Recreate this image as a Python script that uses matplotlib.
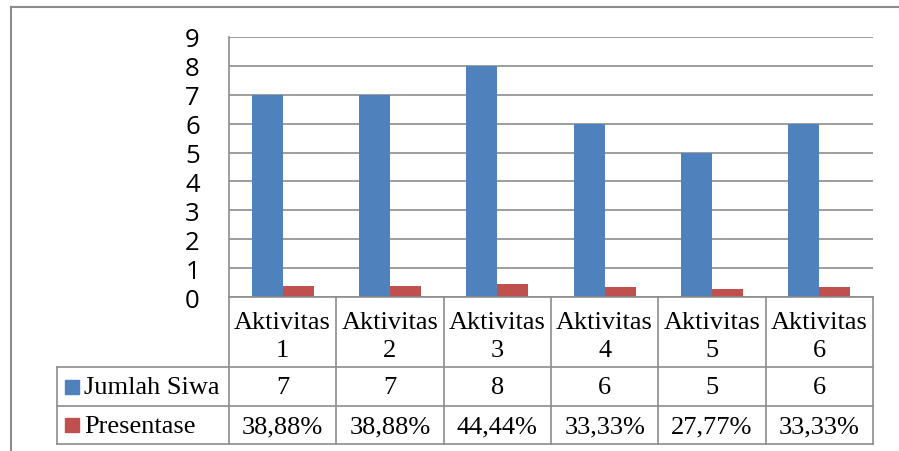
import numpy as np
import matplotlib.pyplot as plt
from matplotlib.lines import Line2D
from matplotlib.patches import Rectangle

categories = ["Aktivitas\n1", "Aktivitas\n2", "Aktivitas\n3", "Aktivitas\n4", "Aktivitas\n5", "Aktivitas\n6"]
jumlah = [7, 7, 8, 6, 5, 6]
presentase = [0.3888, 0.3888, 0.4444, 0.3333, 0.2777, 0.3333]
presentase_labels = ["38,88%", "38,88%", "44,44%", "33,33%", "27,77%", "33,33%"]
series_names = ["Jumlah Siwa", "Presentase"]
colors = ["#4F81BD", "#C0504D"]

W, H = 899, 452
fig = plt.figure(figsize=(W / 100, H / 100), dpi=100)
grid_c = "#8c8c8c"

def fx(px):
    return px / W

def fy(py):
    return 1 - py / H

x_left, x_right = 229, 873
y_top, y_bot = 38, 298
ax = fig.add_axes([fx(x_left), fy(y_bot), fx(x_right) - fx(x_left), fy(y_top) - fy(y_bot)])

n = len(categories)
x = np.arange(n)
bw = 0.29
ax.bar(x - bw / 2, jumlah, bw, color=colors[0], zorder=3)
ax.bar(x + bw / 2, presentase, bw, color=colors[1], zorder=3)
ax.set_xlim(-0.5, n - 0.5)
ax.set_ylim(0, 9)
ax.set_yticks(range(10))
ax.set_yticklabels([str(i) for i in range(10)], fontsize=18.5, family="Open Sans")
ax.tick_params(axis="y", length=0, pad=21)
ax.set_xticks([])
ax.yaxis.grid(True, color=grid_c, lw=1.2, zorder=0)
for s in ["top", "right", "bottom"]:
    ax.spines[s].set_visible(False)
ax.spines["left"].set_color(grid_c)
ax.spines["left"].set_linewidth(1.2)

# data table
def hline(y, x0, x1):
    fig.add_artist(Line2D([fx(x0), fx(x1)], [fy(y), fy(y)], color=grid_c, lw=1.2))

def vline(xp, y0, y1):
    fig.add_artist(Line2D([fx(xp), fx(xp)], [fy(y0), fy(y1)], color=grid_c, lw=1.2))

r0, r1, r2, r3 = 298, 368, 407, 445
legend_x = 57
hline(r0, x_left, x_right)
hline(r1, legend_x, x_right)
hline(r2, legend_x, x_right)
hline(r3, legend_x, x_right)
vline(legend_x, r1, r3)
cw = (x_right - x_left) / n
for k in range(n + 1):
    vline(x_left + k * cw, r0, r3)

tf = dict(family="Liberation Serif", fontsize=19, color="black", ha="center", va="center")
for k in range(n):
    cx = fx(x_left + (k + 0.5) * cw)
    top, bottom = categories[k].split("\n")
    fig.text(cx, fy(323), top, **tf)
    fig.text(cx, fy(351), bottom, **tf)
    fig.text(cx, fy((r1 + r2) / 2 + 1), str(jumlah[k]), **tf)
    fig.text(cx, fy((r2 + r3) / 2 + 1), presentase_labels[k], **tf)

for i, (name, c) in enumerate(zip(series_names, colors)):
    yc = (r1 + r2) / 2 if i == 0 else (r2 + r3) / 2
    fig.add_artist(Rectangle((fx(65), fy(yc + 7)), fx(14), 14 / H, color=c))
    fig.text(fx(84), fy(yc + 1), name, family="Liberation Serif", fontsize=19, ha="left", va="center")

# outer frame
fig.add_artist(Line2D([fx(11), fx(11)], [fy(8), 0], color=grid_c, lw=1.5))
fig.add_artist(Line2D([fx(11), 1], [fy(8), fy(8)], color=grid_c, lw=1.5))

fig.savefig("out.png", dpi=100)
